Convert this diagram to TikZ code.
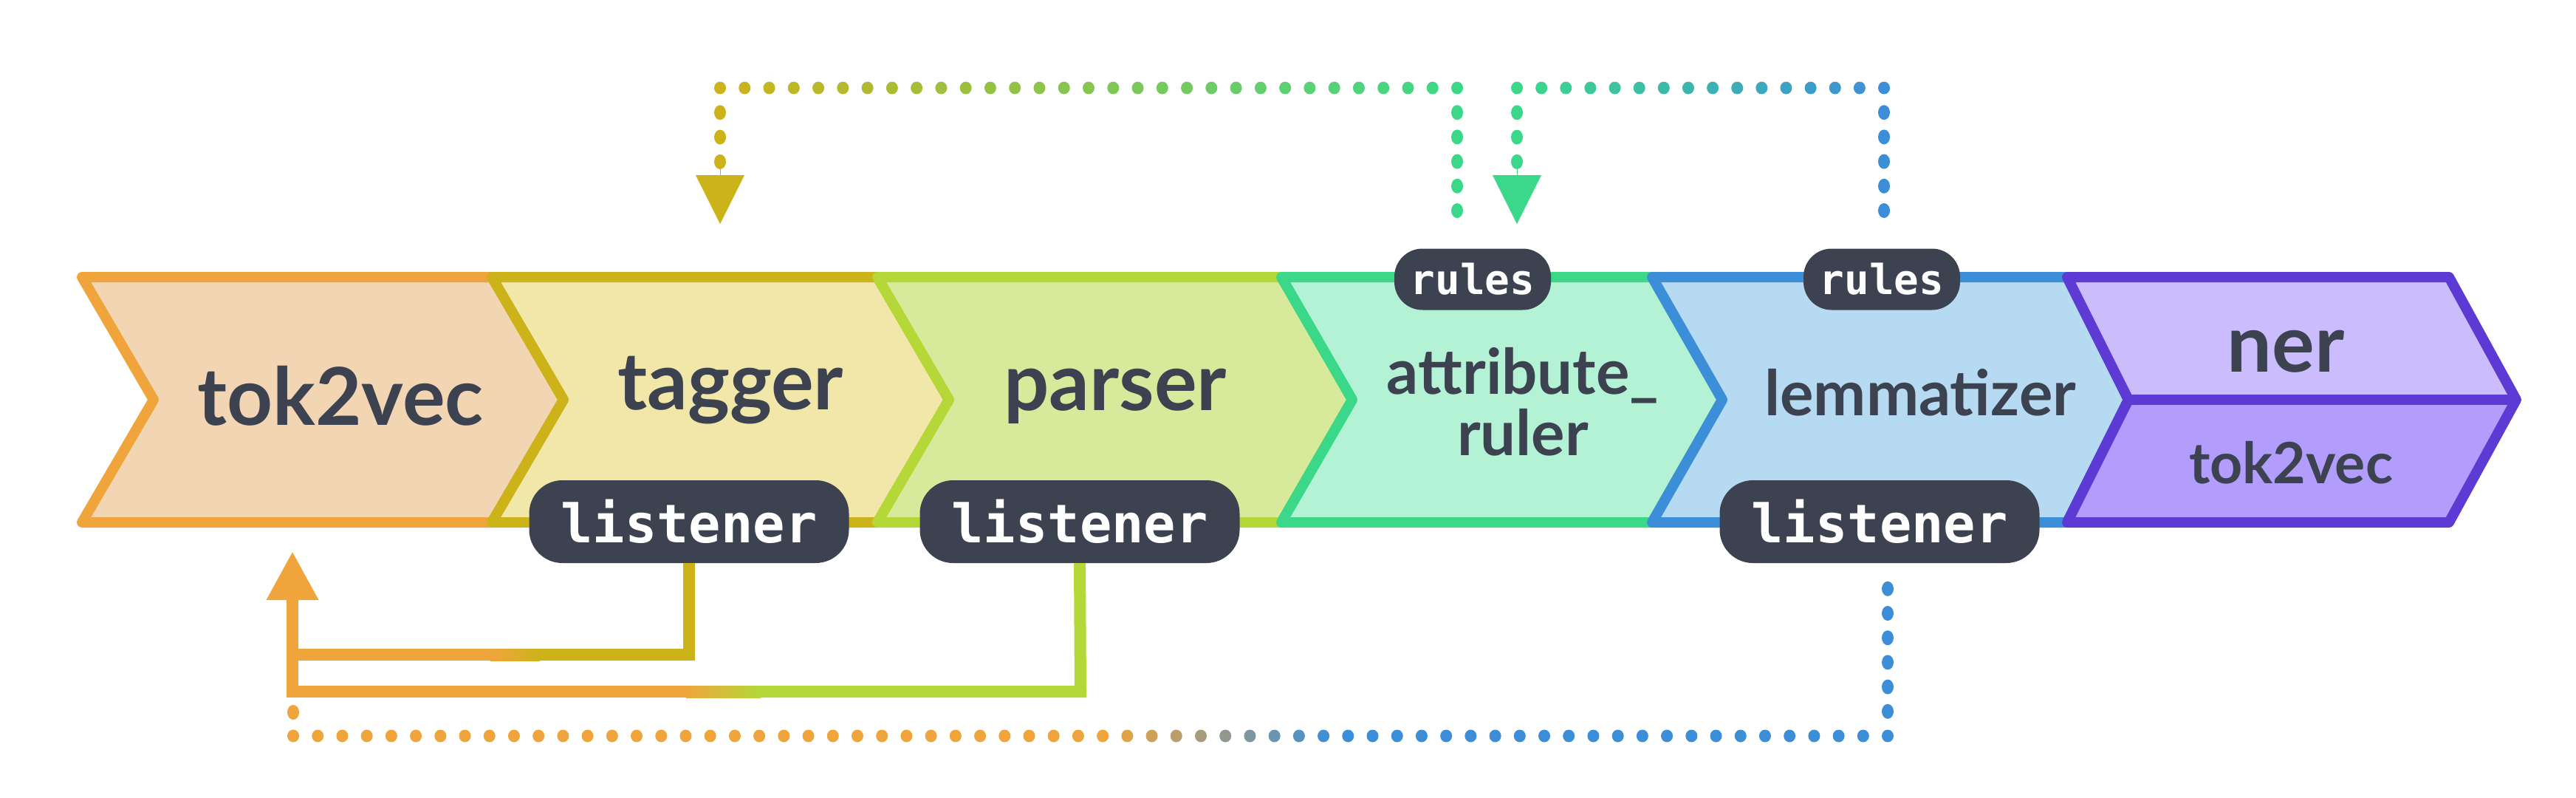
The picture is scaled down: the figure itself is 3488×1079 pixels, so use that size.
\documentclass[tikz,border=0pt]{standalone}
\usepackage{fontspec}
\setmainfont{Lato}
\newfontfamily\pillfont{DejaVu Sans Mono}
\usetikzlibrary{arrows.meta,calc}
\definecolor{cOr}{HTML}{F0A53C}
\definecolor{fOr}{HTML}{F2D6B4}
\definecolor{cYe}{HTML}{CDB31A}
\definecolor{fYe}{HTML}{F1E7A8}
\definecolor{cLi}{HTML}{B3D838}
\definecolor{fLi}{HTML}{D7EA9C}
\definecolor{cGr}{HTML}{3CD88A}
\definecolor{fGr}{HTML}{B4F2D6}
\definecolor{cBl}{HTML}{3D8ED8}
\definecolor{fBl}{HTML}{B6DAF2}
\definecolor{cPu}{HTML}{5E3AD5}
\definecolor{fPuA}{HTML}{CBBDFD}
\definecolor{fPuB}{HTML}{B29DFD}
\definecolor{ink}{HTML}{3D4250}
\begin{document}
\begin{tikzpicture}[x=1pt,y=-1pt,
  chev/.style={line width=14pt,line join=round},
  lab/.style={text=ink,inner sep=0pt,anchor=base,font=\bfseries\fontsize{108}{108}\selectfont},
  midlab/.style={lab,font=\bfseries\fontsize{85}{83}\selectfont},
  smalllab/.style={lab,font=\bfseries\fontsize{77}{77}\selectfont},
  pill/.style={fill=ink,text=white,rounded corners=45pt,minimum width=433pt,minimum height=112pt,inner sep=0pt,font=\pillfont\bfseries\fontsize{72}{72}\selectfont},
  rpill/.style={pill,rounded corners=38pt,minimum width=212pt,minimum height=83pt,font=\pillfont\bfseries\fontsize{56}{56}\selectfont},
  wire/.style={line width=16pt,line join=miter},
  tipA/.style={line width=0.1pt,-{Triangle[width=66pt,length=66pt]}}
]
\useasboundingbox (0,0) rectangle (3488,1079);
\fill[white] (0,0) rectangle (3488,1079);

% chevrons
\filldraw[chev,draw=cOr,fill=fOr] (111,375) -- (666,375) -- (763,541) -- (666,707) -- (111,707) -- (208,541) -- cycle;
\filldraw[chev,draw=cYe,fill=fYe] (666,375) -- (1188,375) -- (1285,541) -- (1188,707) -- (666,707) -- (763,541) -- cycle;
\filldraw[chev,draw=cLi,fill=fLi] (1188,375) -- (1735,375) -- (1831,541) -- (1735,707) -- (1188,707) -- (1285,541) -- cycle;
\filldraw[chev,draw=cGr,fill=fGr] (1735,375) -- (2237,375) -- (2332,541) -- (2237,707) -- (1735,707) -- (1831,541) -- cycle;
\filldraw[chev,draw=cBl,fill=fBl] (2237,375) -- (2799,375) -- (2882,541) -- (2799,707) -- (2237,707) -- (2332,541) -- cycle;
\fill[fPuA] (2799,375) -- (3316,375) -- (3407,541) -- (2882,541) -- cycle;
\fill[fPuB] (2882,541) -- (3407,541) -- (3316,707) -- (2799,707) -- cycle;
\draw[chev,cPu] (2799,375) -- (3316,375) -- (3407,541) -- (3316,707) -- (2799,707) -- (2882,541) -- cycle;
\draw[chev,cPu] (2882,541) -- (3407,541);

% labels
\node[lab] (t2v) at (461,575) {tok2vec};
\node[lab] (tagger) at (989,554) {tagger};
\node[lab] (parser) at (1510,555) {parser};
\node[midlab,align=center] (attr) at (2062,616) {attribute\_\\ruler};
\node[midlab] (lemma) at (2600,562) {lemmatizer};
\node[lab] (ner) at (3095,503) {ner};
\node[smalllab] (nert2v) at (3102,654) {tok2vec};

% pills
\node[pill] (lt) at (933,706) {listener};
\node[pill] (lp) at (1462,706) {listener};
\node[pill] (ll) at (2545,706) {listener};
\node[rpill] (ra) at (1994,378) {rules};
\node[rpill] (rl) at (2548,378) {rules};

% input point of tok2vec
\coordinate (t2vin) at (396,746);

% solid listener wires
\draw[wire,cYe] (lt.south) -- (933,886) -- (730,886);
\shade[left color=cOr,right color=cYe] (664,878) rectangle (731,894);
\draw[wire,cOr] (388,886) -- (665,886);
\draw[wire,cLi] (lp.south) -- (1463,936) -- (1029,936);
\shade[left color=cOr,right color=cLi] (929,928) rectangle (1030,944);
\draw[wire,cOr] (388,936) -- (930,936);
\draw[wire,cOr,-{Triangle[width=66pt,length=66pt]}] (396,944) -- (t2vin);

% dotted: attribute_ruler rules -> tagger
\coordinate (c1) at (1973,119);
\coordinate (c2) at (975,119);
\foreach \k in {1,...,5} \fill[cGr] ($(c1)+(0,\k*33.2)$) ellipse (8pt and 10pt);
\foreach \i in {0,...,30}{
  \pgfmathtruncatemacro\p{round(100*\i/30)}
  \fill[cGr!\p!cYe] ($(c2)!\i/30!(c1)$) ellipse (8pt and 8.5pt);
}
\foreach \k in {1,...,3} \fill[cYe] ($(c2)+(0,\k*33.3)$) ellipse (8pt and 10pt);
\draw[tipA,cYe] ($(c2)+(0,100)$) -- (975,303);

% dotted: lemmatizer rules -> attribute_ruler
\coordinate (c3) at (2551,119);
\coordinate (c4) at (2054,119);
\foreach \k in {1,...,5} \fill[cBl] ($(c3)+(0,\k*33.2)$) ellipse (8pt and 10pt);
\foreach \i in {0,...,15}{
  \pgfmathtruncatemacro\p{round(100*\i/15)}
  \fill[cBl!\p!cGr] ($(c4)!\i/15!(c3)$) ellipse (8pt and 8.5pt);
}
\foreach \k in {1,...,3} \fill[cGr] ($(c4)+(0,\k*33.3)$) ellipse (8pt and 10pt);
\draw[tipA,cGr] ($(c4)+(0,100)$) -- (2054,303);

% dotted: lemmatizer listener -> tok2vec
\coordinate (c5) at (2556,996);
\coordinate (c6) at (397,996);
\foreach \k in {1,...,6} \fill[cBl] ($(c5)+(0,-\k*33.2)$) ellipse (8pt and 10pt);
\foreach \i in {0,...,65}{
  \pgfmathsetmacro\xx{2556-\i*33.215}
  \pgfmathtruncatemacro\p{max(0,min(100,round((\xx-1503)/2.97)))}
  \fill[cBl!\p!cOr] ($(c5)!\i/65!(c6)$) ellipse (8pt and 8.5pt);
}
\fill[cOr] ($(c6)+(0,-32)$) ellipse (8pt and 10pt);
\end{tikzpicture}
\end{document}
